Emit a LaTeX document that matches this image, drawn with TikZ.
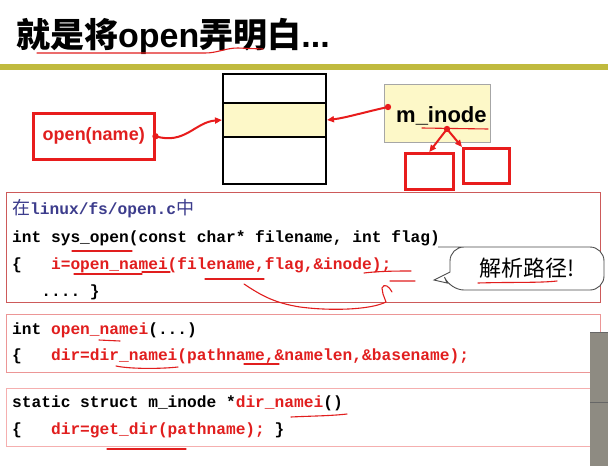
\documentclass[tikz,border=0pt]{standalone}
\usepackage{fontspec}
\setmainfont{Liberation Sans}
\setmonofont{Liberation Mono}
\newfontfamily\cjk{Noto Sans CJK SC}
\usetikzlibrary{arrows.meta}
\definecolor{codered}{RGB}{225,30,30}
\definecolor{boxred}{RGB}{232,28,28}
\definecolor{codeblue}{RGB}{60,60,140}
\definecolor{olive}{RGB}{192,186,62}
\definecolor{inodefill}{RGB}{253,248,200}
\definecolor{panelgray}{RGB}{142,139,130}
\definecolor{border1}{RGB}{205,90,90}
\definecolor{border2}{RGB}{236,150,150}
\definecolor{border3}{RGB}{245,175,175}
\tikzset{
  codeline/.style={anchor=base west, inner sep=0pt, font=\fontsize{16.2}{19}\selectfont\ttfamily\bfseries},
  rowbox/.style={draw=black, line width=2pt, minimum width=103pt, anchor=north west, inner sep=0pt},
  redbox/.style={draw=boxred, line width=2.5pt, anchor=north west, inner sep=0pt},
  conn/.style={draw=boxred, line width=2pt, -{Triangle[length=7pt,width=6pt]}},
  annot/.style={draw=codered, line width=1.1pt, line cap=round, line join=round},
}
\begin{document}
\begin{tikzpicture}[x=1pt,y=-1pt]
\useasboundingbox (0,0) rectangle (608,466);
\fill[white] (0,0) rectangle (608,466);
% title
\node[anchor=base west, inner sep=0pt, font=\fontsize{34}{38}\selectfont\bfseries] (title) at (16,47)
  {{\cjk 就是将}open{\cjk 弄明白}...};
\fill[olive] (0,64) rectangle (608,70);
% table
\node[rowbox, minimum height=29pt] (r1) at (222,73) {};
\node[rowbox, minimum height=34pt, fill=inodefill] (r2) at (222,102) {};
\node[rowbox, minimum height=47pt] (r3) at (222,136) {};
% open(name)
\node[redbox, minimum width=121pt, minimum height=46pt, text=codered,
  font=\fontsize{18}{20}\selectfont\bfseries] (open) at (32,112) {open(name)};
% m_inode
\node[draw=gray!70, fill=inodefill, line width=1pt, minimum width=106pt, minimum height=58pt,
  anchor=north west, inner sep=0pt] (mi) at (384,84) {};
\node[anchor=base west, inner sep=0pt, font=\fontsize{22}{24}\selectfont\bfseries] (mitext) at (396,122) {m\_inode};
\node[redbox, minimum width=48pt, minimum height=36pt] (ba) at (404,152) {};
\node[redbox, minimum width=46pt, minimum height=35pt] (bb) at (462,147) {};
% connectors
\coordinate (dmi) at (388,107);
\coordinate (dbr) at (447,129);
\fill[boxred] (open.east) circle (3.2pt);
\draw[conn] (open.east) .. controls (185,145) and (195,122) .. (r2.west);
\fill[boxred] (dmi) circle (3.2pt);
\draw[conn] (dmi) .. controls (365,112) and (345,118) .. (r2.east);
\fill[boxred] (dbr) circle (3.2pt);
\draw[conn] (dbr) -- (ba.north);
\draw[conn] (dbr) -- (bb.north west);
% code boxes
\draw[border1, line width=1pt] (6,192) rectangle (600,302);
\draw[border2, line width=1pt] (6,314) rectangle (600,372);
\draw[border3, line width=1pt] (6,388) rectangle (600,446);
\node[codeline, text=codeblue] (l1) at (12,214)
  {{\cjk\mdseries\fontsize{18}{19}\selectfont 在}linux/fs/open.c{\cjk\mdseries\fontsize{18}{19}\selectfont 中}};
\node[codeline] (l2) at (12,242) {int sys\_open(const char* filename, int flag)};
\node[codeline] (l3) at (12,269) {\{~~~\textcolor{codered}{i=open\_namei(filename,flag,\&inode);}};
\node[codeline] (l4) at (12,296) {~~~....~\}};
\node[codeline] (m1) at (12,334) {int \textcolor{codered}{open\_namei}(...)};
\node[codeline] (m2) at (12,360) {\{~~~\textcolor{codered}{dir=dir\_namei(pathname,\&namelen,\&basename);}};
\node[codeline] (n1) at (12,407) {static struct m\_inode *\textcolor{codered}{dir\_namei}()};
\node[codeline] (n2) at (12,434) {\{~~~\textcolor{codered}{dir=get\_dir(pathname);}~\}};
% callout
\draw[black!70, line width=0.9pt, fill=white, rounded corners=14pt]
  (452,247) -- (604,247) -- (604,290) -- (450,290) [sharp corners] -- (447,283) -- (434,280) -- (450,272) [rounded corners=14pt] -- (450,247) -- cycle;
\node[anchor=base west, inner sep=0pt, font=\cjk\fontsize{22}{24}\selectfont] (cap) at (479,276) {解析路径!};
% hand-drawn annotations
\draw[annot] (37,53) -- (205,53) .. controls (218,53) and (225,48) .. (238,48) -- (263,49);
\draw[annot] (422,128) -- (488,129);
\draw[annot] (72,251) -- (132,251);
\draw[annot] (74,274) -- (142,274) (142,272) -- (170,272);
\draw[annot] (205,279) -- (264,279);
\draw[annot] (364,273) .. controls (380,271) and (400,271) .. (411,271) (390,281) -- (415,281);
\draw[annot] (244,284) .. controls (262,296) and (275,303) .. (300,307) .. controls (330,311) and (370,310) .. (386,302) -- (383,294) -- (382,288) .. controls (384,283) and (389,286) .. (392,292);
\draw[annot] (99,340) -- (120,341);
\draw[annot] (116,366) .. controls (130,369) and (160,369) .. (178,367);
\draw[annot] (244,364) -- (279,364);
\draw[annot] (291,417) .. controls (310,416) and (330,416) .. (347,414);
\draw[annot] (107,449) -- (186,449);
\draw[annot] (478,283) .. controls (510,282) and (540,283) .. (557,281);
% gray panel at right edge
\fill[panelgray] (590,332) rectangle (608,466);
\draw[black!60, line width=1pt] (590,332.5) -- (608,332.5);
\draw[black!60, line width=1pt] (590,402) -- (608,402);
\end{tikzpicture}
\end{document}
